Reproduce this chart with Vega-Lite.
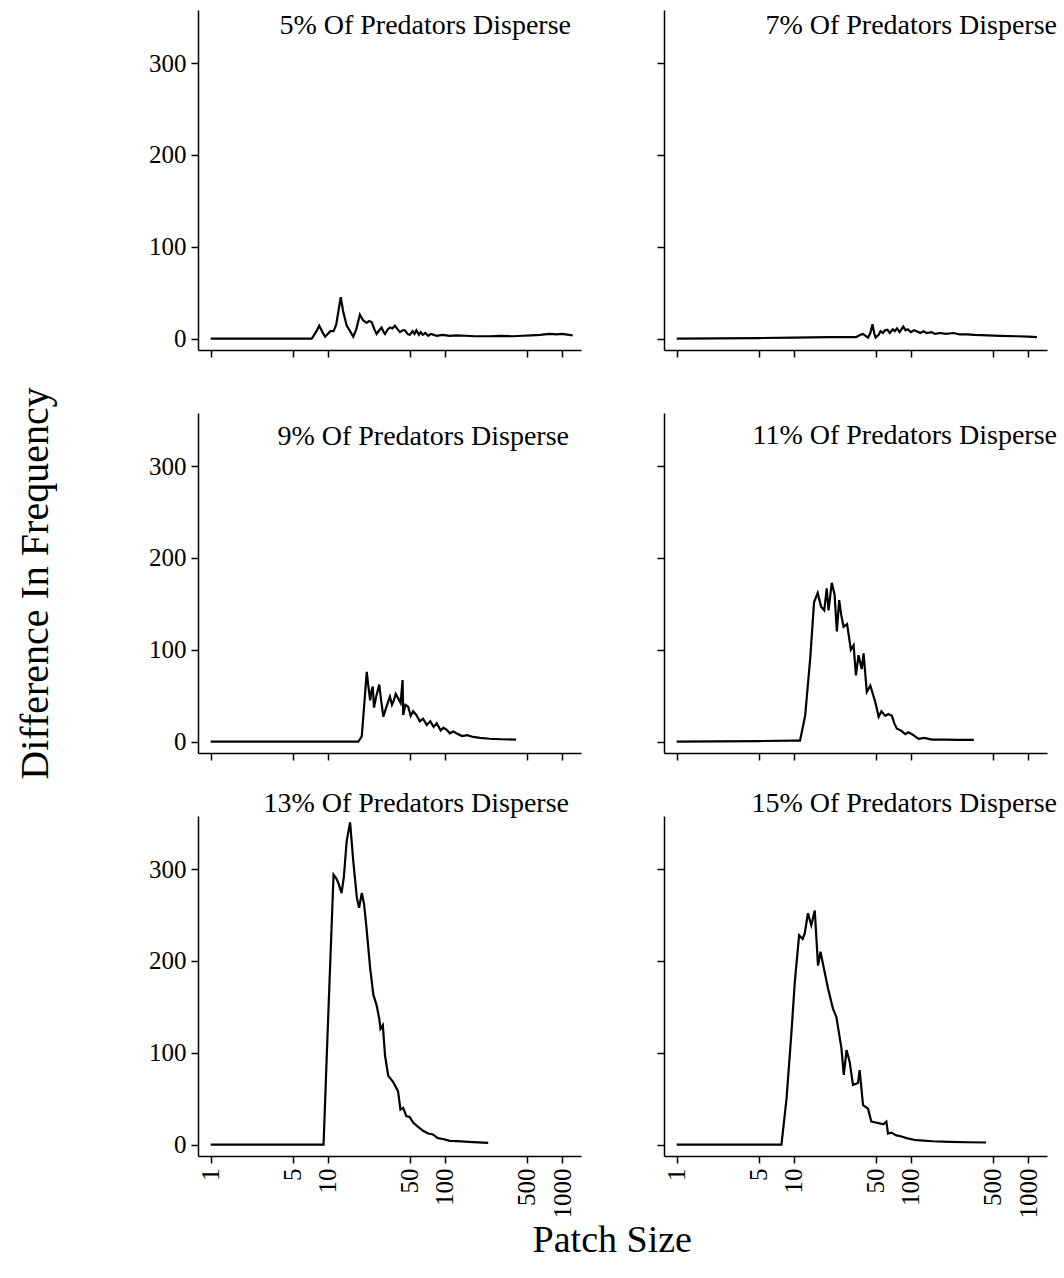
{
  "$schema": "https://vega.github.io/schema/vega-lite/v6.json",
  "padding": {"left": 15, "top": 10, "right": 5, "bottom": 5},
  "background": "white",
  "datasets": {
    "d": [
      {"p":5,"x":1,"y":0},{"p":5,"x":7.3,"y":0},{"p":5,"x":8.0,"y":8},{"p":5,"x":8.45,"y":14},{"p":5,"x":9.0,"y":7},{"p":5,"x":9.5,"y":2},{"p":5,"x":10.5,"y":8},{"p":5,"x":11.2,"y":8},{"p":5,"x":11.8,"y":15},{"p":5,"x":12.4,"y":32},{"p":5,"x":12.9,"y":45},{"p":5,"x":13.5,"y":30},{"p":5,"x":14.5,"y":14},{"p":5,"x":15.5,"y":8},{"p":5,"x":16.5,"y":2},{"p":5,"x":17.5,"y":10},{"p":5,"x":18.8,"y":26},{"p":5,"x":20,"y":20},{"p":5,"x":21.4,"y":17},{"p":5,"x":22.5,"y":19},{"p":5,"x":23.7,"y":18},{"p":5,"x":25,"y":10},{"p":5,"x":26.1,"y":5},{"p":5,"x":27.5,"y":9},{"p":5,"x":28.8,"y":12},{"p":5,"x":30,"y":7},{"p":5,"x":30.8,"y":5},{"p":5,"x":32.5,"y":10},{"p":5,"x":33.9,"y":12},{"p":5,"x":35.5,"y":11},{"p":5,"x":37.4,"y":14},{"p":5,"x":39.5,"y":10},{"p":5,"x":41.3,"y":7},{"p":5,"x":43.5,"y":9},{"p":5,"x":45.5,"y":9},{"p":5,"x":48,"y":5},{"p":5,"x":50,"y":4},{"p":5,"x":53,"y":8},{"p":5,"x":55,"y":5},{"p":5,"x":57,"y":9},{"p":5,"x":60,"y":4},{"p":5,"x":62,"y":7},{"p":5,"x":64.7,"y":4},{"p":5,"x":68,"y":6},{"p":5,"x":72,"y":3},{"p":5,"x":76,"y":5},{"p":5,"x":85,"y":3},{"p":5,"x":95,"y":4},{"p":5,"x":110,"y":3},{"p":5,"x":125,"y":3.5},{"p":5,"x":150,"y":3},{"p":5,"x":180,"y":2.5},{"p":5,"x":240,"y":2.5},{"p":5,"x":300,"y":3},{"p":5,"x":380,"y":2.5},{"p":5,"x":460,"y":3},{"p":5,"x":550,"y":3.5},{"p":5,"x":650,"y":4},{"p":5,"x":780,"y":5},{"p":5,"x":900,"y":4.5},{"p":5,"x":1000,"y":5},{"p":5,"x":1150,"y":4},{"p":5,"x":1230,"y":3.5},

      {"p":7,"x":1,"y":0},{"p":7,"x":5,"y":0.5},{"p":7,"x":10,"y":1},{"p":7,"x":20,"y":1.5},{"p":7,"x":34,"y":1.5},{"p":7,"x":37,"y":4},{"p":7,"x":39,"y":5},{"p":7,"x":41,"y":3},{"p":7,"x":43,"y":1},{"p":7,"x":45,"y":6},{"p":7,"x":47,"y":15.5},{"p":7,"x":48.5,"y":6},{"p":7,"x":50,"y":1},{"p":7,"x":53,"y":4},{"p":7,"x":55,"y":8},{"p":7,"x":57.6,"y":6},{"p":7,"x":60,"y":9},{"p":7,"x":63,"y":9.5},{"p":7,"x":66,"y":6},{"p":7,"x":70,"y":10},{"p":7,"x":73,"y":8},{"p":7,"x":76,"y":11},{"p":7,"x":80,"y":7},{"p":7,"x":86,"y":13},{"p":7,"x":90,"y":9},{"p":7,"x":94,"y":10},{"p":7,"x":100,"y":7},{"p":7,"x":106,"y":9},{"p":7,"x":112,"y":8},{"p":7,"x":120,"y":6},{"p":7,"x":128,"y":8},{"p":7,"x":136,"y":6},{"p":7,"x":150,"y":7},{"p":7,"x":160,"y":5},{"p":7,"x":177,"y":6},{"p":7,"x":200,"y":5},{"p":7,"x":230,"y":6},{"p":7,"x":260,"y":4.5},{"p":7,"x":300,"y":4.5},{"p":7,"x":350,"y":4},{"p":7,"x":450,"y":3.5},{"p":7,"x":575,"y":3},{"p":7,"x":800,"y":2.5},{"p":7,"x":1000,"y":2},{"p":7,"x":1190,"y":1.5},

      {"p":9,"x":1,"y":0},{"p":9,"x":18.2,"y":0},{"p":9,"x":19.5,"y":5.5},{"p":9,"x":20.4,"y":38},{"p":9,"x":21.5,"y":76},{"p":9,"x":22.2,"y":60},{"p":9,"x":23,"y":45},{"p":9,"x":23.6,"y":55},{"p":9,"x":24.2,"y":60},{"p":9,"x":24.8,"y":37},{"p":9,"x":26,"y":50},{"p":9,"x":27.5,"y":62},{"p":9,"x":28.5,"y":45},{"p":9,"x":29.8,"y":27},{"p":9,"x":31.7,"y":38},{"p":9,"x":33.9,"y":49},{"p":9,"x":35.3,"y":40},{"p":9,"x":36.7,"y":45},{"p":9,"x":38,"y":52},{"p":9,"x":39.9,"y":47},{"p":9,"x":41.8,"y":42},{"p":9,"x":43.5,"y":67},{"p":9,"x":44,"y":29},{"p":9,"x":46,"y":40},{"p":9,"x":48.5,"y":38},{"p":9,"x":51,"y":28},{"p":9,"x":53.5,"y":33},{"p":9,"x":57,"y":29},{"p":9,"x":61,"y":22},{"p":9,"x":65,"y":25},{"p":9,"x":70,"y":18},{"p":9,"x":75,"y":22},{"p":9,"x":80,"y":16},{"p":9,"x":85,"y":20},{"p":9,"x":92,"y":12},{"p":9,"x":97,"y":15},{"p":9,"x":103,"y":13},{"p":9,"x":110,"y":9},{"p":9,"x":118,"y":11},{"p":9,"x":125,"y":9},{"p":9,"x":140,"y":6},{"p":9,"x":155,"y":7},{"p":9,"x":174,"y":5},{"p":9,"x":200,"y":4},{"p":9,"x":240,"y":3},{"p":9,"x":300,"y":2.5},{"p":9,"x":405,"y":2},

      {"p":11,"x":1,"y":0},{"p":11,"x":5,"y":0.5},{"p":11,"x":10,"y":1},{"p":11,"x":11.3,"y":1},{"p":11,"x":12.5,"y":28},{"p":11,"x":13.8,"y":90},{"p":11,"x":14.9,"y":152},{"p":11,"x":16,"y":162},{"p":11,"x":17.1,"y":147},{"p":11,"x":18.2,"y":143},{"p":11,"x":19.1,"y":167},{"p":11,"x":19.8,"y":143},{"p":11,"x":21.1,"y":173},{"p":11,"x":22.3,"y":160},{"p":11,"x":23.3,"y":120},{"p":11,"x":24.4,"y":154},{"p":11,"x":25.4,"y":138},{"p":11,"x":26.6,"y":125},{"p":11,"x":28.5,"y":128},{"p":11,"x":30.7,"y":100},{"p":11,"x":32.4,"y":105},{"p":11,"x":33.9,"y":72},{"p":11,"x":35.7,"y":94},{"p":11,"x":38,"y":79},{"p":11,"x":39.4,"y":96},{"p":11,"x":42,"y":54},{"p":11,"x":45,"y":61},{"p":11,"x":49.6,"y":43},{"p":11,"x":53,"y":27},{"p":11,"x":56,"y":33},{"p":11,"x":60.4,"y":28},{"p":11,"x":64,"y":30},{"p":11,"x":68.8,"y":28},{"p":11,"x":72,"y":20},{"p":11,"x":75.9,"y":14},{"p":11,"x":82,"y":12},{"p":11,"x":89.5,"y":8},{"p":11,"x":95,"y":10},{"p":11,"x":102,"y":8},{"p":11,"x":116,"y":3},{"p":11,"x":130,"y":4},{"p":11,"x":151,"y":2},{"p":11,"x":200,"y":2},{"p":11,"x":250,"y":1.8},{"p":11,"x":344,"y":1.8},

      {"p":13,"x":1,"y":0},{"p":13,"x":9.2,"y":0},{"p":13,"x":9.8,"y":97},{"p":13,"x":10.5,"y":199},{"p":13,"x":11.2,"y":294},{"p":13,"x":11.8,"y":290},{"p":13,"x":12.3,"y":285},{"p":13,"x":13.1,"y":274},{"p":13,"x":13.7,"y":291},{"p":13,"x":14.5,"y":331},{"p":13,"x":15.5,"y":351},{"p":13,"x":16.5,"y":309},{"p":13,"x":17.7,"y":269},{"p":13,"x":18.5,"y":258},{"p":13,"x":19.5,"y":274},{"p":13,"x":20.4,"y":262},{"p":13,"x":21.4,"y":236},{"p":13,"x":23,"y":192},{"p":13,"x":24.5,"y":163},{"p":13,"x":26.1,"y":152},{"p":13,"x":27.5,"y":137},{"p":13,"x":28.2,"y":126},{"p":13,"x":29.5,"y":130},{"p":13,"x":30.8,"y":97},{"p":13,"x":32.8,"y":75},{"p":13,"x":36.2,"y":68},{"p":13,"x":39.8,"y":58},{"p":13,"x":41.7,"y":38},{"p":13,"x":44,"y":40},{"p":13,"x":46.8,"y":31},{"p":13,"x":50,"y":30},{"p":13,"x":53.5,"y":24},{"p":13,"x":58,"y":20},{"p":13,"x":65,"y":15},{"p":13,"x":72,"y":12},{"p":13,"x":79,"y":11},{"p":13,"x":87,"y":7},{"p":13,"x":96,"y":6},{"p":13,"x":110,"y":4},{"p":13,"x":125,"y":3.7},{"p":13,"x":174,"y":2.6},{"p":13,"x":234,"y":1.8},

      {"p":15,"x":1,"y":0},{"p":15,"x":7.85,"y":0},{"p":15,"x":8.67,"y":50},{"p":15,"x":9.56,"y":123},{"p":15,"x":10.2,"y":177},{"p":15,"x":11.1,"y":228},{"p":15,"x":11.9,"y":224},{"p":15,"x":12.4,"y":230},{"p":15,"x":13.2,"y":252},{"p":15,"x":14.1,"y":239},{"p":15,"x":15.1,"y":255},{"p":15,"x":16.1,"y":195},{"p":15,"x":16.9,"y":210},{"p":15,"x":18,"y":193},{"p":15,"x":19.6,"y":170},{"p":15,"x":21.6,"y":148},{"p":15,"x":23.1,"y":139},{"p":15,"x":25.5,"y":105},{"p":15,"x":26.7,"y":76},{"p":15,"x":28.2,"y":103},{"p":15,"x":30,"y":90},{"p":15,"x":32,"y":65},{"p":15,"x":35.3,"y":67},{"p":15,"x":36.5,"y":81},{"p":15,"x":39,"y":43},{"p":15,"x":43,"y":39},{"p":15,"x":45.9,"y":25},{"p":15,"x":50,"y":24},{"p":15,"x":54,"y":23},{"p":15,"x":58,"y":22},{"p":15,"x":61.7,"y":25},{"p":15,"x":63.7,"y":12},{"p":15,"x":68,"y":13},{"p":15,"x":75,"y":10},{"p":15,"x":82,"y":9},{"p":15,"x":91.5,"y":7},{"p":15,"x":111,"y":4.7},{"p":15,"x":154,"y":3.6},{"p":15,"x":214,"y":2.9},{"p":15,"x":300,"y":2.5},{"p":15,"x":438,"y":2.2}
    ]
  },
  "title": {"text": "Patch Size", "orient": "bottom", "anchor": "middle", "fontSize": 38, "dx": 76, "offset": 4},
  "columns": 2,
  "bounds": "flush",
  "spacing": {"row": 63, "column": 83},
  "concat": [
    {
      "width": 383, "height": 340,
      "data": {"name": "d"},
      "transform": [{"filter": "datum.p == 5"}],
      "title": {"text": "5% Of Predators Disperse", "anchor": "end", "baseline": "alphabetic", "offset": -52, "dx": -10},
      "mark": {"type": "line", "color": "black", "strokeWidth": 2.2},
      "encoding": {
        "x": {"field": "x", "type": "quantitative", "scale": {"type": "log", "domain": [0.78, 1450]}, "axis": {"values": [1,5,10,50,100,500,1000], "labels": false, "title": null}},
        "y": {"field": "y", "type": "quantitative", "scale": {"domain": [-12.5, 358], "nice": false, "zero": false}, "axis": {"values": [0,100,200,300], "title": null}}
      }
    },
    {
      "width": 383, "height": 340,
      "data": {"name": "d"},
      "transform": [{"filter": "datum.p == 7"}],
      "title": {"text": "7% Of Predators Disperse", "anchor": "end", "baseline": "alphabetic", "offset": -52, "dx": 10},
      "mark": {"type": "line", "color": "black", "strokeWidth": 2.2},
      "encoding": {
        "x": {"field": "x", "type": "quantitative", "scale": {"type": "log", "domain": [0.78, 1450]}, "axis": {"values": [1,5,10,50,100,500,1000], "labels": false, "title": null}},
        "y": {"field": "y", "type": "quantitative", "scale": {"domain": [-12.5, 358], "nice": false, "zero": false}, "axis": {"values": [0,100,200,300], "labels": false, "title": null}}
      }
    },
    {
      "width": 383, "height": 340,
      "data": {"name": "d"},
      "transform": [{"filter": "datum.p == 9"}],
      "title": {"text": "9% Of Predators Disperse", "anchor": "end", "baseline": "alphabetic", "offset": -86, "dx": -12},
      "mark": {"type": "line", "color": "black", "strokeWidth": 2.2},
      "encoding": {
        "x": {"field": "x", "type": "quantitative", "scale": {"type": "log", "domain": [0.78, 1450]}, "axis": {"values": [1,5,10,50,100,500,1000], "labels": false, "title": null}},
        "y": {"field": "y", "type": "quantitative", "scale": {"domain": [-12.5, 358], "nice": false, "zero": false}, "axis": {"values": [0,100,200,300], "title": "Difference In Frequency", "titleFontSize": 40, "titleFontWeight": "normal", "titleFont": "Liberation Serif", "titlePadding": 93}}
      }
    },
    {
      "width": 383, "height": 340,
      "data": {"name": "d"},
      "transform": [{"filter": "datum.p == 11"}],
      "title": {"text": "11% Of Predators Disperse", "anchor": "end", "baseline": "alphabetic", "offset": -59, "dx": 10},
      "mark": {"type": "line", "color": "black", "strokeWidth": 2.2},
      "encoding": {
        "x": {"field": "x", "type": "quantitative", "scale": {"type": "log", "domain": [0.78, 1450]}, "axis": {"values": [1,5,10,50,100,500,1000], "labels": false, "title": null}},
        "y": {"field": "y", "type": "quantitative", "scale": {"domain": [-12.5, 358], "nice": false, "zero": false}, "axis": {"values": [0,100,200,300], "labels": false, "title": null}}
      }
    },
    {
      "width": 383, "height": 340,
      "data": {"name": "d"},
      "transform": [{"filter": "datum.p == 13"}],
      "title": {"text": "13% Of Predators Disperse", "anchor": "end", "baseline": "alphabetic", "offset": -24, "dx": -12},
      "mark": {"type": "line", "color": "black", "strokeWidth": 2.2},
      "encoding": {
        "x": {"field": "x", "type": "quantitative", "scale": {"type": "log", "domain": [0.78, 1450]}, "axis": {"values": [1,5,10,50,100,500,1000], "format": "d", "labelAngle": 270, "title": null}},
        "y": {"field": "y", "type": "quantitative", "scale": {"domain": [-12.5, 358], "nice": false, "zero": false}, "axis": {"values": [0,100,200,300], "title": null}}
      }
    },
    {
      "width": 383, "height": 340,
      "data": {"name": "d"},
      "transform": [{"filter": "datum.p == 15"}],
      "title": {"text": "15% Of Predators Disperse", "anchor": "end", "baseline": "alphabetic", "offset": -24, "dx": 10},
      "mark": {"type": "line", "color": "black", "strokeWidth": 2.2},
      "encoding": {
        "x": {"field": "x", "type": "quantitative", "scale": {"type": "log", "domain": [0.78, 1450]}, "axis": {"values": [1,5,10,50,100,500,1000], "format": "d", "labelAngle": 270, "title": null}},
        "y": {"field": "y", "type": "quantitative", "scale": {"domain": [-12.5, 358], "nice": false, "zero": false}, "axis": {"values": [0,100,200,300], "labels": false, "title": null}}
      }
    }
  ],
  "config": {
    "view": {"stroke": null},
    "font": "Liberation Serif",
    "axis": {"grid": false, "domainColor": "black", "domainWidth": 1.5, "tickColor": "black", "tickWidth": 1.5, "tickSize": 7, "labelColor": "black", "labelFont": "Liberation Serif", "labelFontSize": 25, "labelPadding": 5, "labelFlush": false, "labelOverlap": false},
    "title": {"font": "Liberation Serif", "fontSize": 28, "fontWeight": "normal", "color": "black"}
  }
}
